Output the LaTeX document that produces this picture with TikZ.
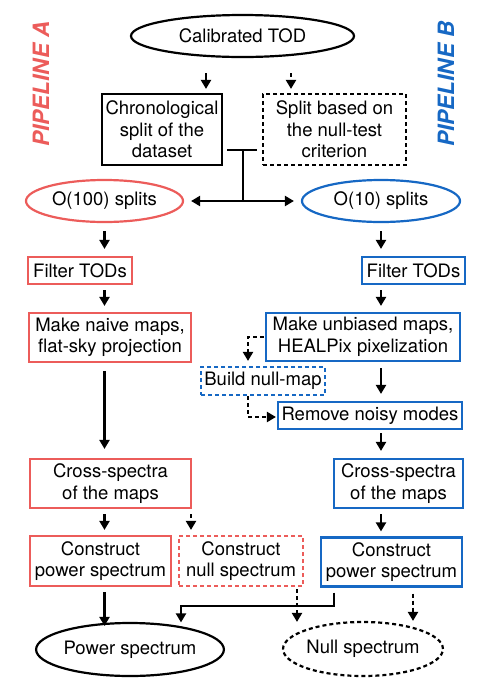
\documentclass[tikz,border=0pt]{standalone}
\usepackage{fontspec}
\setmainfont{TeX Gyre Heros}
\usetikzlibrary{shapes.geometric,arrows.meta}
\definecolor{pred}{RGB}{236,92,90}
\definecolor{pblue}{RGB}{22,104,196}
\tikzset{
  base/.style={inner sep=0pt, line width=2.2pt, align=center, font=\fontsize{18.5}{21.5}\selectfont},
  boxK/.style={base, draw=black, rectangle},
  boxR/.style={base, draw=pred, rectangle},
  boxB/.style={base, draw=pblue, rectangle},
  ellK/.style={base, draw=black, ellipse},
  ellR/.style={base, draw=pred, ellipse},
  ellB/.style={base, draw=pblue, ellipse},
  dsh/.style={dash pattern=on 4pt off 3pt},
  arr/.style={line width=2.2pt, -{Triangle[length=9pt,width=10pt]}},
  ln/.style={line width=2.2pt},
  pipe/.style={font=\fontsize{22.5}{24}\selectfont\bfseries\itshape, rotate=90, inner sep=0pt}
}
\begin{document}
\begin{tikzpicture}[x=1pt,y=-1pt]
\useasboundingbox (0,0) rectangle (485,686);
% nodes
\node[ellK, minimum width=223pt, minimum height=42pt] (tod) at (242.5,36) {Calibrated TOD};
\node[pipe, text=pred] (pa) at (41,84) {PIPELINE A};
\node[pipe, text=pblue] (pb) at (446,84) {PIPELINE B};
\node[boxK, minimum width=120pt, minimum height=71pt] (chrono) at (162,129.5) {Chronological\\split of the\\dataset};
\node[boxK, dsh, minimum width=143pt, minimum height=71pt] (split) at (334.5,129.5) {Split based on\\the null-test\\criterion};
\node[ellR, minimum width=157pt, minimum height=42pt] (o100) at (104.5,201) {O(100) splits};
\node[ellB, minimum width=158pt, minimum height=42pt] (o10) at (381,201) {O(10) splits};
\node[boxR, minimum width=104pt, minimum height=27pt] (filterA) at (80,270.5) {Filter TODs};
\node[boxB, minimum width=103pt, minimum height=27pt] (filterB) at (413.5,270.5) {Filter TODs};
\node[boxR, minimum width=162pt, minimum height=49pt] (naive) at (110,337.5) {Make naive maps,\\flat-sky projection};
\node[boxB, minimum width=194pt, minimum height=48pt] (unbiased) at (363,337) {Make unbiased maps,\\HEALPix pixelization};
\node[boxB, dsh, minimum width=124pt, minimum height=28pt] (buildnull) at (263,381) {Build null-map};
\node[boxB, minimum width=184pt, minimum height=27pt] (remove) at (370,415.5) {Remove noisy modes};
\node[boxR, minimum width=161pt, minimum height=49pt] (crossA) at (110.5,483.5) {Cross-spectra\\of the maps};
\node[boxB, minimum width=129pt, minimum height=49pt] (crossB) at (398.5,483.5) {Cross-spectra\\of the maps};
\node[boxR, minimum width=141pt, minimum height=50pt] (cpA) at (100.5,561) {Construct\\power spectrum};
\node[boxR, dsh, minimum width=124pt, minimum height=50pt] (cnull) at (241,561) {Construct\\null spectrum};
\node[boxB, minimum width=141pt, minimum height=49pt] (cpB) at (391.5,562) {Construct\\power spectrum};
\node[ellK, minimum width=156pt, minimum height=53pt] (power) at (130,649.5) {Power spectrum};
\node[ellK, dsh, minimum width=158pt, minimum height=54pt] (null) at (363,649) {Null spectrum};
% connectors top
\draw[arr] ([xshift=-36.5pt,yshift=-15pt]tod.south) -- ([xshift=44pt,yshift=4pt]chrono.north);
\draw[arr,dsh] ([xshift=48.5pt,yshift=-15pt]tod.south) -- ([xshift=-43.5pt,yshift=4pt]split.north);
\coordinate (jl) at ([xshift=4pt,yshift=-20.5pt]chrono.east);
\coordinate (jr) at ([xshift=-5pt,yshift=-20.5pt]split.west);
\draw[ln] (jl) -- (jr);
\coordinate (j) at (243,150);
\coordinate (jb) at (j |- o100.center);
\draw[ln] (j) -- (jb);
\draw[arr, shorten >=7pt] (jb) -- (o100.east);
\draw[arr, shorten >=7pt] (jb) -- (o10.west);
% pipeline A
\draw[arr, shorten <=8pt, shorten >=7pt] (o100.south) -- (o100.south |- filterA.north);
\draw[arr, shorten <=5pt, shorten >=6pt] (filterA.south -| o100.south) -- (o100.south |- naive.north);
\draw[arr, shorten <=8pt, shorten >=9pt] (naive.south -| o100.south) -- (o100.south |- crossA.north);
\draw[arr, shorten <=5pt, shorten >=5pt] (crossA.south -| o100.south) -- (o100.south |- cpA.north);
\draw[arr, dsh, shorten <=5pt, shorten >=5pt] ([xshift=80.5pt]crossA.south) -- ([xshift=-50pt]cnull.north);
\draw[arr, shorten <=5pt] (cpA.south -| o100.south) -- ([yshift=-4pt]o100.south |- power.north);
% pipeline B
\draw[arr, shorten <=8pt, shorten >=7pt] (o10.south) -- (o10.south |- filterB.north);
\draw[arr, shorten <=5pt, shorten >=6pt] (filterB.south -| o10.south) -- (o10.south |- unbiased.north);
\draw[arr, dsh, shorten <=1pt, shorten >=5pt] (unbiased.west) -| ([xshift=-15pt]buildnull.north);
\draw[arr, shorten <=6pt, shorten >=7pt] (unbiased.south -| o10.south) -- (o10.south |- remove.north);
\draw[arr, dsh, shorten >=1pt] ([xshift=-15pt]buildnull.south) |- ([yshift=-1.5pt]remove.west);
\draw[arr, shorten <=3pt, shorten >=7pt] (remove.south -| o10.south) -- (o10.south |- crossB.north);
\draw[arr, shorten <=5pt, shorten >=5pt] (crossB.south -| o10.south) -- (o10.south |- cpB.north);
% bottom
\coordinate (pe) at ([xshift=51pt,yshift=-0.5pt]power.north);
\draw[arr, shorten <=5pt] ([xshift=-57.5pt]cpB.south) |- ++(0,18) -| (pe);
\draw[arr, dsh, shorten <=2pt, shorten >=6pt] ([xshift=56pt]cnull.south) -- ([xshift=-66pt,yshift=-7pt]null.north);
\draw[arr, dsh, shorten <=6pt, shorten >=6pt] ([xshift=21.5pt]cpB.south) -- ([xshift=50pt,yshift=-6pt]null.north);
\end{tikzpicture}
\end{document}
